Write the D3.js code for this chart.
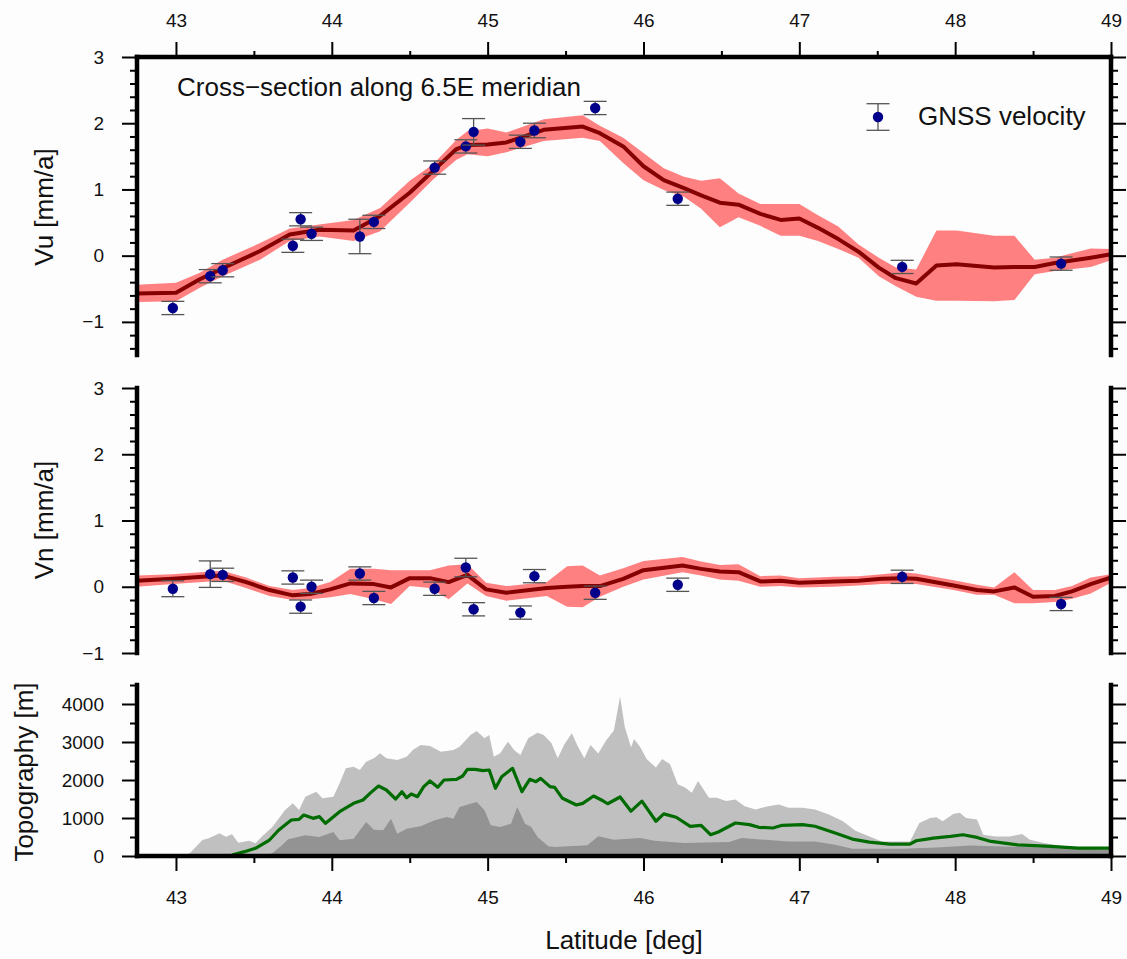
<!DOCTYPE html>
<html>
<head>
<meta charset="utf-8">
<script src="https://cdn.jsdelivr.net/npm/d3@7"></script>
<style>
body { margin: 0; background: #fdfdfd; }
text { font-family: "Liberation Sans", Arial, Helvetica, sans-serif; fill: #111; }
</style>
</head>
<body>
<script>
//data
// GNSS stations (latitude), vertical / north velocities and 1-sigma errors [mm/a]
var gnssLat = [42.98, 43.22, 43.30, 43.75, 43.80, 43.87, 44.18, 44.27, 44.66, 44.86, 44.91, 45.21, 45.30, 45.69, 46.22, 47.66, 48.68];
var gnssVu = [-0.79, -0.31, -0.22, 0.15, 0.55, 0.33, 0.29, 0.51, 1.33, 1.65, 1.87, 1.72, 1.89, 2.23, 0.86, -0.17, -0.12];
var gnssVuErr = [0.10, 0.10, 0.10, 0.10, 0.10, 0.10, 0.26, 0.10, 0.10, 0.10, 0.20, 0.10, 0.11, 0.10, 0.10, 0.10, 0.10];
var gnssVn = [-0.03, 0.19, 0.18, 0.14, -0.30, 0.00, 0.20, -0.17, -0.03, 0.29, -0.34, -0.39, 0.16, -0.09, 0.03, 0.15, -0.26];
var gnssVnErr = [0.12, 0.20, 0.10, 0.10, 0.10, 0.10, 0.10, 0.10, 0.10, 0.14, 0.10, 0.10, 0.10, 0.10, 0.10, 0.10, 0.10];

// model profiles: [lat, value, lower, upper]
var vuModel = [
  [42.75, -0.57, -0.70, -0.44], [43.00, -0.56, -0.69, -0.41], [43.15, -0.36, -0.49, -0.26],
  [43.30, -0.19, -0.31, -0.06], [43.54, 0.07, -0.06, 0.19], [43.73, 0.32, 0.22, 0.41],
  [43.92, 0.39, 0.29, 0.47], [44.14, 0.38, 0.22, 0.54], [44.31, 0.60, 0.37, 0.72],
  [44.50, 0.95, 0.80, 1.13], [44.65, 1.28, 1.15, 1.38], [44.80, 1.61, 1.45, 1.75],
  [44.87, 1.67, 1.53, 1.88], [45.00, 1.68, 1.50, 1.92], [45.12, 1.71, 1.56, 1.86],
  [45.36, 1.90, 1.73, 2.06], [45.61, 1.95, 1.78, 2.12], [45.72, 1.85, 1.73, 1.96],
  [45.87, 1.65, 1.40, 1.78], [46.00, 1.35, 1.14, 1.55], [46.13, 1.14, 0.99, 1.32],
  [46.26, 1.02, 0.89, 1.19], [46.37, 0.91, 0.71, 1.13], [46.49, 0.80, 0.43, 1.17],
  [46.61, 0.77, 0.58, 0.94], [46.75, 0.63, 0.45, 0.78], [46.88, 0.54, 0.30, 0.78],
  [47.00, 0.56, 0.30, 0.78], [47.12, 0.42, 0.22, 0.61], [47.25, 0.25, 0.10, 0.44],
  [47.38, 0.06, -0.03, 0.17], [47.51, -0.18, -0.31, -0.03], [47.62, -0.34, -0.46, -0.18],
  [47.75, -0.42, -0.62, -0.21], [47.88, -0.15, -0.68, 0.38], [48.01, -0.13, -0.68, 0.38],
  [48.25, -0.18, -0.69, 0.30], [48.38, -0.17, -0.67, 0.30], [48.51, -0.17, -0.28, -0.06],
  [48.64, -0.11, -0.23, -0.03], [48.87, -0.03, -0.17, 0.11], [49.00, 0.02, -0.07, 0.10]
];
var vnModel = [
  [42.75, 0.09, 0.00, 0.17], [42.98, 0.12, 0.04, 0.19], [43.22, 0.16, 0.08, 0.23],
  [43.30, 0.17, 0.09, 0.24], [43.45, 0.07, -0.02, 0.14], [43.60, -0.05, -0.14, 0.01],
  [43.75, -0.13, -0.20, -0.05], [43.86, -0.11, -0.19, -0.02], [43.99, -0.04, -0.16, 0.07],
  [44.12, 0.05, -0.11, 0.27], [44.27, 0.04, -0.19, 0.27], [44.38, -0.01, -0.26, 0.25],
  [44.50, 0.13, 0.01, 0.25], [44.63, 0.13, -0.02, 0.25], [44.75, 0.07, -0.19, 0.32],
  [44.87, 0.18, 0.05, 0.34], [44.99, -0.04, -0.14, 0.06], [45.12, -0.09, -0.21, 0.01],
  [45.38, -0.02, -0.14, 0.07], [45.51, 0.00, -0.30, 0.31], [45.61, 0.01, -0.31, 0.32],
  [45.72, 0.01, -0.15, 0.17], [45.87, 0.12, 0.00, 0.28], [46.00, 0.25, 0.11, 0.39],
  [46.25, 0.32, 0.22, 0.45], [46.37, 0.27, 0.17, 0.38], [46.49, 0.23, 0.11, 0.33],
  [46.61, 0.22, 0.09, 0.34], [46.75, 0.08, 0.00, 0.16], [46.88, 0.09, 0.01, 0.17],
  [47.00, 0.06, -0.01, 0.13], [47.22, 0.08, 0.00, 0.15], [47.38, 0.09, 0.02, 0.16],
  [47.53, 0.12, 0.04, 0.19], [47.66, 0.13, 0.05, 0.22], [47.75, 0.12, 0.04, 0.20],
  [47.99, 0.02, -0.05, 0.10], [48.14, -0.05, -0.12, 0.03], [48.25, -0.07, -0.12, -0.01],
  [48.38, -0.01, -0.25, 0.22], [48.50, -0.15, -0.25, -0.05], [48.64, -0.14, -0.23, -0.05],
  [48.75, -0.07, -0.18, 0.01], [48.87, 0.04, -0.10, 0.14], [49.00, 0.14, 0.06, 0.19]
];

// topography swath: [lat, elevation m]
var topoMax = [
  [42.75, 0], [43.05, 0], [43.09, 80], [43.17, 421], [43.21, 465], [43.28, 596], [43.32, 509],
  [43.36, 570], [43.40, 351], [43.47, 404], [43.51, 333], [43.55, 509], [43.62, 772], [43.70, 1211],
  [43.75, 1386], [43.79, 1211], [43.83, 1561], [43.90, 1693], [43.94, 1518], [44.01, 1561], [44.05, 1912],
  [44.09, 2307], [44.14, 2351], [44.18, 2263], [44.22, 2482], [44.27, 2570], [44.31, 2702], [44.35, 2570],
  [44.42, 2526], [44.48, 2614], [44.52, 2789], [44.57, 2921], [44.63, 2895], [44.70, 2746], [44.78, 2789],
  [44.82, 2877], [44.89, 3184], [44.93, 3289], [44.98, 3096], [45.01, 3184], [45.04, 2614], [45.08, 2702],
  [45.13, 3009], [45.17, 2789], [45.21, 2658], [45.26, 3096], [45.32, 3246], [45.36, 3184], [45.41, 2965],
  [45.45, 2570], [45.49, 2921], [45.54, 3228], [45.58, 2877], [45.62, 2570], [45.66, 2921], [45.71, 2700],
  [45.76, 3037], [45.81, 3302], [45.85, 4197], [45.88, 3392], [45.92, 2860], [45.94, 3082], [45.98, 2860],
  [46.02, 2550], [46.08, 2329], [46.12, 2550], [46.17, 2418], [46.22, 1887], [46.27, 1798], [46.31, 1666],
  [46.35, 1975], [46.42, 1533], [46.47, 1533], [46.53, 1445], [46.59, 1489], [46.65, 1312], [46.72, 1223],
  [46.80, 1312], [46.87, 1357], [46.93, 1268], [47.02, 1268], [47.10, 1223], [47.19, 1091], [47.28, 914],
  [47.36, 666], [47.45, 516], [47.53, 383], [47.62, 383], [47.71, 383], [47.77, 869], [47.84, 1003],
  [47.88, 1020], [47.92, 914], [47.99, 1109], [48.03, 1136], [48.07, 1003], [48.14, 959], [48.18, 560],
  [48.26, 516], [48.35, 516], [48.43, 578], [48.48, 427], [48.57, 339], [48.70, 251], [48.83, 207], [49.00, 189]
];
var topoMin = [
  [43.50, 0], [43.57, 0], [43.62, 79], [43.68, 281], [43.72, 439], [43.83, 544], [43.92, 500],
  [44.01, 632], [44.05, 412], [44.14, 456], [44.22, 895], [44.27, 693], [44.33, 675], [44.38, 982],
  [44.42, 588], [44.48, 719], [44.57, 781], [44.66, 939], [44.74, 1026], [44.78, 982], [44.82, 1289],
  [44.89, 1377], [44.93, 1421], [44.98, 1202], [45.02, 807], [45.08, 763], [45.15, 851], [45.19, 1289],
  [45.24, 851], [45.28, 763], [45.32, 500], [45.39, 254], [45.43, 237], [45.64, 281], [45.71, 518],
  [45.81, 427], [45.98, 472], [46.07, 401], [46.26, 339], [46.55, 366], [46.63, 472], [46.93, 383],
  [47.10, 383], [47.23, 295], [47.34, 189], [47.66, 189], [47.88, 224], [48.10, 277], [48.53, 224], [49.00, 163]
];
var topoMean = [
  [43.36, 26], [43.44, 114], [43.51, 202], [43.60, 421], [43.66, 684], [43.74, 947], [43.79, 965],
  [43.82, 1079], [43.88, 991], [43.92, 1035], [43.96, 860], [44.05, 1167], [44.14, 1386], [44.20, 1474],
  [44.25, 1667], [44.30, 1842], [44.35, 1737], [44.41, 1500], [44.45, 1693], [44.48, 1535], [44.51, 1632],
  [44.55, 1561], [44.59, 1825], [44.63, 1974], [44.68, 1807], [44.72, 2000], [44.80, 2018], [44.84, 2105],
  [44.87, 2281], [44.92, 2281], [44.97, 2246], [45.01, 2263], [45.05, 1781], [45.09, 2088], [45.16, 2307],
  [45.22, 1693], [45.27, 2018], [45.31, 1956], [45.34, 2044], [45.40, 1825], [45.43, 1807], [45.48, 1518],
  [45.57, 1342], [45.61, 1386], [45.68, 1579], [45.73, 1474], [45.77, 1375], [45.85, 1552], [45.92, 1180],
  [45.99, 1445], [46.08, 914], [46.13, 1109], [46.21, 1020], [46.30, 782], [46.37, 808], [46.43, 560],
  [46.48, 631], [46.59, 869], [46.68, 825], [46.74, 755], [46.83, 737], [46.89, 808], [47.02, 825],
  [47.10, 782], [47.23, 604], [47.34, 445], [47.45, 366], [47.58, 313], [47.71, 313], [47.75, 401],
  [47.86, 472], [47.97, 516], [48.05, 560], [48.14, 489], [48.23, 383], [48.40, 295], [48.61, 251],
  [48.79, 207], [49.00, 207]
];

// tick labels
var latTicks = [43, 44, 45, 46, 47, 48, 49];
var velTicks = [-1, 0, 1, 2, 3];
var topoTicks = [0, 1000, 2000, 3000, 4000];

//svg
var svg = d3.select("body")
    .append("svg")
    .attr("width", 1127)
    .attr("height", 959)
    .style("display", "block");

var left = 137, right = 1111;
var x = d3.scaleLinear().domain([42.75, 49]).range([left, right]);
var yVu = d3.scaleLinear().domain([-1.5, 3]).range([355, 57]);
var yVn = d3.scaleLinear().domain([-1, 3]).range([653, 388]);
var yTopo = d3.scaleLinear().domain([0, 4500]).range([856, 685]);

var fmt = d3.format("d");
var minorLat = d3.range(43.5, 49, 1);
function minorVel(y) {
    var d = y.domain();
    return d3.range(Math.round(d[0] * 5), Math.round(d[1] * 5) + 1)
        .map(function (k) { return k / 5; })
        .filter(function (v) { return Math.abs(v - Math.round(v)) > 1e-6; });
}

function styleAxis(g) {
    g.select(".domain").remove();
    g.selectAll(".tick line").attr("stroke", "#000").attr("stroke-width", 2);
    g.selectAll(".tick text").style("font-size", "19px").attr("fill", "#111");
}

function addAxis(axis, tx, ty) {
    svg.append("g")
        .attr("transform", "translate(" + tx + "," + ty + ")")
        .call(axis)
        .call(styleAxis);
}

function yAxes(y, major, minor, fmtFn) {
    addAxis(d3.axisLeft(y).tickValues(minor).tickSize(7).tickFormat(""), left, 0);
    addAxis(d3.axisLeft(y).tickValues(major).tickSize(15).tickPadding(18).tickFormat(fmtFn), left, 0);
    addAxis(d3.axisRight(y).tickValues(minor).tickSize(7).tickFormat(""), right, 0);
    addAxis(d3.axisRight(y).tickValues(major).tickSize(15).tickFormat(""), right, 0);
}

function frame(x1, y1, x2, y2) {
    svg.append("line")
        .attr("x1", x1).attr("y1", y1)
        .attr("x2", x2).attr("y2", y2)
        .attr("stroke", "#000")
        .attr("stroke-width", 4.5)
        .attr("stroke-linecap", "square");
}

function velocityPanel(y, model, vals, errs) {
    var band = d3.area()
        .x(function (d) { return x(d[0]); })
        .y0(function (d) { return y(d[2]); })
        .y1(function (d) { return y(d[3]); });
    var line = d3.line()
        .x(function (d) { return x(d[0]); })
        .y(function (d) { return y(d[1]); });

    svg.append("path").datum(model).attr("d", band).attr("fill", "#ff8080");
    svg.append("path").datum(model).attr("d", line)
        .attr("fill", "none").attr("stroke", "#850000").attr("stroke-width", 4)
        .attr("stroke-linejoin", "round");

    var g = svg.append("g");
    gnssLat.forEach(function (lat, i) {
        var cx = x(lat), lo = y(vals[i] - errs[i]), hi = y(vals[i] + errs[i]);
        g.append("line").attr("x1", cx).attr("x2", cx).attr("y1", lo).attr("y2", hi)
            .attr("stroke", "#555").attr("stroke-width", 1.3);
        g.append("line").attr("x1", cx - 11.5).attr("x2", cx + 11.5).attr("y1", lo).attr("y2", lo)
            .attr("stroke", "#555").attr("stroke-width", 1.3);
        g.append("line").attr("x1", cx - 11.5).attr("x2", cx + 11.5).attr("y1", hi).attr("y2", hi)
            .attr("stroke", "#555").attr("stroke-width", 1.3);
        g.append("circle").attr("cx", cx).attr("cy", y(vals[i])).attr("r", 5.2)
            .attr("fill", "#00008b");
    });
}

//top panel: Vu
velocityPanel(yVu, vuModel, gnssVu, gnssVuErr);
yAxes(yVu, velTicks, minorVel(yVu), fmt);
addAxis(d3.axisTop(x).tickValues(minorLat).tickSize(6).tickFormat(""), 0, 57);
addAxis(d3.axisTop(x).tickValues(latTicks).tickSize(15).tickPadding(15).tickFormat(fmt), 0, 57);
frame(left, 57, right, 57);
frame(left, 57, left, 355);
frame(right, 57, right, 355);

svg.append("text")
    .attr("x", 177)
    .attr("y", 96)
    .style("font-size", "26px")
    .text("Cross\u2212section along 6.5E meridian");

//legend
var lg = svg.append("g").attr("transform", "translate(878,117)");
lg.append("line").attr("x1", 0).attr("x2", 0).attr("y1", -13.3).attr("y2", 13.3)
    .attr("stroke", "#555").attr("stroke-width", 1.3);
lg.append("line").attr("x1", -11.5).attr("x2", 11.5).attr("y1", -13.3).attr("y2", -13.3)
    .attr("stroke", "#555").attr("stroke-width", 1.3);
lg.append("line").attr("x1", -11.5).attr("x2", 11.5).attr("y1", 13.3).attr("y2", 13.3)
    .attr("stroke", "#555").attr("stroke-width", 1.3);
lg.append("circle").attr("r", 5.2).attr("fill", "#00008b");
lg.append("text").attr("x", 40).attr("y", 8).style("font-size", "26px").text("GNSS velocity");

//middle panel: Vn
velocityPanel(yVn, vnModel, gnssVn, gnssVnErr);
yAxes(yVn, velTicks, minorVel(yVn), fmt);
frame(left, 388, left, 653);
frame(right, 388, right, 653);

//bottom panel: topography
var topoArea = d3.area()
    .x(function (d) { return x(d[0]); })
    .y0(yTopo(0))
    .y1(function (d) { return yTopo(d[1]); });
var topoLine = d3.line()
    .x(function (d) { return x(d[0]); })
    .y(function (d) { return yTopo(d[1]); });

svg.append("path").datum(topoMax).attr("d", topoArea).attr("fill", "#c0c0c0");
svg.append("path").datum(topoMin).attr("d", topoArea).attr("fill", "#939393");
svg.append("path").datum(topoMean).attr("d", topoLine)
    .attr("fill", "none").attr("stroke", "#006b00").attr("stroke-width", 3.2)
    .attr("stroke-linejoin", "round");
// sea-level stretch of the profile
svg.append("path")
    .datum(topoMax.filter(function (d) { return d[1] === 0; }))
    .attr("d", topoLine)
    .attr("fill", "none").attr("stroke", "#000").attr("stroke-width", 4);

yAxes(yTopo, topoTicks, d3.range(500, 4501, 1000), fmt);
addAxis(d3.axisBottom(x).tickValues(minorLat).tickSize(7).tickFormat(""), 0, 856);
addAxis(d3.axisBottom(x).tickValues(latTicks).tickSize(15).tickPadding(20).tickFormat(fmt), 0, 856);
frame(left, 685, left, 856);
frame(right, 685, right, 856);
frame(left, 856, right, 856);

//axis titles
function yTitle(txt, tx, ty) {
    svg.append("text")
        .attr("transform", "translate(" + tx + "," + ty + ") rotate(-90)")
        .attr("text-anchor", "middle")
        .style("font-size", "26px")
        .text(txt);
}
yTitle("Vu [mm/a]", 53, 207);
yTitle("Vn [mm/a]", 53, 520);
yTitle("Topography [m]", 33, 772);

svg.append("text")
    .attr("x", (left + right) / 2)
    .attr("y", 949)
    .attr("text-anchor", "middle")
    .style("font-size", "26px")
    .text("Latitude [deg]");
</script>
</body>
</html>
